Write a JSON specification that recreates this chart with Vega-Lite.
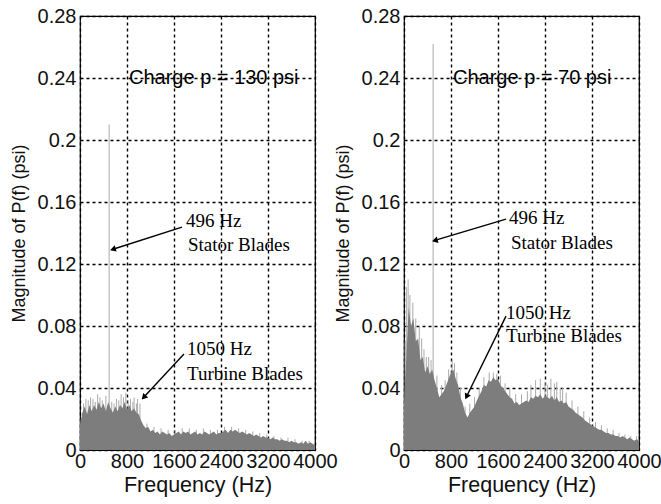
{
  "$schema": "https://vega.github.io/schema/vega-lite/v6.json",
  "padding": {"left": 9, "top": 5, "right": 0, "bottom": 5},
  "background": "white",
  "datasets": {
    "spec130": [{"f":0,"m":0.016},{"f":40,"m":0.024},{"f":80,"m":0.028},{"f":120,"m":0.023},{"f":160,"m":0.029},{"f":200,"m":0.025},{"f":240,"m":0.029},{"f":280,"m":0.026},{"f":320,"m":0.031},{"f":360,"m":0.027},{"f":400,"m":0.03},{"f":440,"m":0.025},{"f":480,"m":0.031},{"f":520,"m":0.027},{"f":560,"m":0.024},{"f":600,"m":0.028},{"f":640,"m":0.025},{"f":680,"m":0.029},{"f":720,"m":0.027},{"f":760,"m":0.031},{"f":800,"m":0.026},{"f":840,"m":0.029},{"f":880,"m":0.025},{"f":920,"m":0.027},{"f":960,"m":0.024},{"f":1000,"m":0.023},{"f":1040,"m":0.019},{"f":1080,"m":0.016},{"f":1120,"m":0.014},{"f":1160,"m":0.015},{"f":1200,"m":0.012},{"f":1240,"m":0.013},{"f":1280,"m":0.011},{"f":1320,"m":0.012},{"f":1360,"m":0.01},{"f":1400,"m":0.012},{"f":1440,"m":0.011},{"f":1480,"m":0.01},{"f":1520,"m":0.011},{"f":1560,"m":0.009},{"f":1600,"m":0.01},{"f":1640,"m":0.011},{"f":1680,"m":0.012},{"f":1720,"m":0.01},{"f":1760,"m":0.012},{"f":1800,"m":0.011},{"f":1840,"m":0.012},{"f":1880,"m":0.01},{"f":1920,"m":0.011},{"f":1960,"m":0.012},{"f":2000,"m":0.01},{"f":2040,"m":0.011},{"f":2080,"m":0.01},{"f":2120,"m":0.012},{"f":2160,"m":0.011},{"f":2200,"m":0.01},{"f":2240,"m":0.011},{"f":2280,"m":0.012},{"f":2320,"m":0.01},{"f":2360,"m":0.011},{"f":2400,"m":0.011},{"f":2440,"m":0.012},{"f":2480,"m":0.013},{"f":2520,"m":0.011},{"f":2560,"m":0.013},{"f":2600,"m":0.012},{"f":2640,"m":0.013},{"f":2680,"m":0.012},{"f":2720,"m":0.011},{"f":2760,"m":0.012},{"f":2800,"m":0.011},{"f":2840,"m":0.01},{"f":2880,"m":0.011},{"f":2920,"m":0.01},{"f":2960,"m":0.009},{"f":3000,"m":0.01},{"f":3040,"m":0.009},{"f":3080,"m":0.008},{"f":3120,"m":0.009},{"f":3160,"m":0.008},{"f":3200,"m":0.008},{"f":3240,"m":0.007},{"f":3280,"m":0.008},{"f":3320,"m":0.007},{"f":3360,"m":0.007},{"f":3400,"m":0.006},{"f":3440,"m":0.007},{"f":3480,"m":0.006},{"f":3520,"m":0.006},{"f":3560,"m":0.005},{"f":3600,"m":0.006},{"f":3640,"m":0.005},{"f":3680,"m":0.005},{"f":3720,"m":0.004},{"f":3760,"m":0.005},{"f":3800,"m":0.004},{"f":3840,"m":0.006},{"f":3880,"m":0.004},{"f":3920,"m":0.005},{"f":3960,"m":0.004},{"f":4000,"m":0.003}],
    "spec70": [{"f":0,"m":0.03},{"f":40,"m":0.06},{"f":80,"m":0.092},{"f":120,"m":0.08},{"f":160,"m":0.085},{"f":200,"m":0.07},{"f":240,"m":0.072},{"f":280,"m":0.058},{"f":320,"m":0.06},{"f":360,"m":0.05},{"f":400,"m":0.054},{"f":440,"m":0.049},{"f":480,"m":0.052},{"f":520,"m":0.045},{"f":560,"m":0.04},{"f":600,"m":0.034},{"f":640,"m":0.036},{"f":680,"m":0.038},{"f":720,"m":0.042},{"f":760,"m":0.046},{"f":800,"m":0.05},{"f":840,"m":0.052},{"f":880,"m":0.046},{"f":920,"m":0.042},{"f":960,"m":0.034},{"f":1000,"m":0.03},{"f":1040,"m":0.024},{"f":1080,"m":0.021},{"f":1120,"m":0.024},{"f":1160,"m":0.026},{"f":1200,"m":0.028},{"f":1240,"m":0.032},{"f":1280,"m":0.035},{"f":1320,"m":0.038},{"f":1360,"m":0.042},{"f":1400,"m":0.041},{"f":1440,"m":0.045},{"f":1480,"m":0.044},{"f":1520,"m":0.047},{"f":1560,"m":0.045},{"f":1600,"m":0.046},{"f":1640,"m":0.042},{"f":1680,"m":0.04},{"f":1720,"m":0.038},{"f":1760,"m":0.036},{"f":1800,"m":0.034},{"f":1840,"m":0.033},{"f":1880,"m":0.03},{"f":1920,"m":0.031},{"f":1960,"m":0.029},{"f":2000,"m":0.03},{"f":2040,"m":0.031},{"f":2080,"m":0.032},{"f":2120,"m":0.031},{"f":2160,"m":0.034},{"f":2200,"m":0.033},{"f":2240,"m":0.035},{"f":2280,"m":0.034},{"f":2320,"m":0.036},{"f":2360,"m":0.033},{"f":2400,"m":0.035},{"f":2440,"m":0.034},{"f":2480,"m":0.033},{"f":2520,"m":0.035},{"f":2560,"m":0.032},{"f":2600,"m":0.034},{"f":2640,"m":0.031},{"f":2680,"m":0.032},{"f":2720,"m":0.03},{"f":2760,"m":0.031},{"f":2800,"m":0.028},{"f":2840,"m":0.027},{"f":2880,"m":0.026},{"f":2920,"m":0.024},{"f":2960,"m":0.023},{"f":3000,"m":0.022},{"f":3040,"m":0.021},{"f":3080,"m":0.019},{"f":3120,"m":0.018},{"f":3160,"m":0.017},{"f":3200,"m":0.016},{"f":3240,"m":0.015},{"f":3280,"m":0.014},{"f":3320,"m":0.013},{"f":3360,"m":0.013},{"f":3400,"m":0.012},{"f":3440,"m":0.011},{"f":3480,"m":0.011},{"f":3520,"m":0.01},{"f":3560,"m":0.01},{"f":3600,"m":0.009},{"f":3640,"m":0.009},{"f":3680,"m":0.008},{"f":3720,"m":0.009},{"f":3760,"m":0.008},{"f":3800,"m":0.007},{"f":3840,"m":0.008},{"f":3880,"m":0.007},{"f":3920,"m":0.006},{"f":3960,"m":0.007},{"f":4000,"m":0.006}],
    "spk130": [{"f":20,"s":0.02},{"f":60,"s":0.03},{"f":100,"s":0.033},{"f":140,"s":0.032},{"f":180,"s":0.034},{"f":220,"s":0.033},{"f":260,"s":0.031},{"f":300,"s":0.036},{"f":340,"s":0.034},{"f":380,"s":0.032},{"f":440,"s":0.035},{"f":496,"s":0.21},{"f":540,"s":0.031},{"f":580,"s":0.03},{"f":620,"s":0.033},{"f":660,"s":0.032},{"f":700,"s":0.036},{"f":740,"s":0.034},{"f":780,"s":0.037},{"f":820,"s":0.032},{"f":860,"s":0.033},{"f":900,"s":0.031},{"f":920,"s":0.034},{"f":960,"s":0.03},{"f":980,"s":0.033},{"f":1020,"s":0.03},{"f":1140,"s":0.017},{"f":1260,"s":0.015},{"f":1380,"s":0.014},{"f":1500,"s":0.013},{"f":1620,"s":0.013},{"f":1740,"s":0.014},{"f":1860,"s":0.014},{"f":1980,"s":0.013},{"f":2100,"s":0.014},{"f":2220,"s":0.013},{"f":2340,"s":0.013},{"f":2460,"s":0.015},{"f":2580,"s":0.015},{"f":2700,"s":0.014},{"f":2820,"s":0.013},{"f":2940,"s":0.012},{"f":3060,"s":0.011},{"f":3180,"s":0.01},{"f":3300,"s":0.009},{"f":3420,"s":0.008},{"f":3540,"s":0.008},{"f":3660,"s":0.007},{"f":3780,"s":0.006},{"f":3900,"s":0.006}],
    "spk70": [{"f":20,"s":0.07},{"f":40,"s":0.105},{"f":70,"s":0.11},{"f":100,"s":0.1},{"f":150,"s":0.095},{"f":200,"s":0.085},{"f":260,"s":0.08},{"f":300,"s":0.072},{"f":340,"s":0.065},{"f":380,"s":0.06},{"f":420,"s":0.06},{"f":460,"s":0.058},{"f":496,"s":0.262},{"f":560,"s":0.048},{"f":640,"s":0.042},{"f":700,"s":0.045},{"f":760,"s":0.052},{"f":820,"s":0.058},{"f":860,"s":0.056},{"f":900,"s":0.05},{"f":960,"s":0.04},{"f":1040,"s":0.028},{"f":1120,"s":0.03},{"f":1200,"s":0.034},{"f":1280,"s":0.04},{"f":1360,"s":0.047},{"f":1450,"s":0.05},{"f":1520,"s":0.05},{"f":1580,"s":0.049},{"f":1640,"s":0.048},{"f":1720,"s":0.043},{"f":1800,"s":0.04},{"f":1900,"s":0.036},{"f":2000,"s":0.036},{"f":2100,"s":0.038},{"f":2160,"s":0.042},{"f":2240,"s":0.045},{"f":2320,"s":0.046},{"f":2400,"s":0.044},{"f":2440,"s":0.042},{"f":2500,"s":0.046},{"f":2560,"s":0.043},{"f":2600,"s":0.044},{"f":2660,"s":0.04},{"f":2700,"s":0.04},{"f":2760,"s":0.037},{"f":2860,"s":0.032},{"f":2960,"s":0.028},{"f":3060,"s":0.025},{"f":3160,"s":0.021},{"f":3260,"s":0.018},{"f":3360,"s":0.016},{"f":3460,"s":0.014},{"f":3560,"s":0.013},{"f":3660,"s":0.011},{"f":3760,"s":0.01},{"f":3860,"s":0.009},{"f":3960,"s":0.009}],
    "arr130": [{"ft": 1736, "mt": 0.1438, "fh": 560, "mh": 0.1295, "angle": 252}, {"ft": 1770, "mt": 0.0619, "fh": 1085, "mh": 0.034, "angle": 222}],
    "arr70": [{"ft": 1736, "mt": 0.149, "fh": 525, "mh": 0.1352, "angle": 255}, {"ft": 1736, "mt": 0.0864, "fh": 1065, "mh": 0.0345, "angle": 206}]
  },
  "hconcat": [
    {
      "width": 235,
      "height": 434,
      "layer": [
        {
          "data": {"name": "spk130"},
          "mark": {"type": "rule", "color": "#aaaaaa", "strokeWidth": 1},
          "encoding": {
            "x": {"field": "f", "type": "quantitative", "scale": {"domain": [0, 4000], "nice": false}, "axis": {"title": "Frequency (Hz)", "values": [0, 800, 1600, 2400, 3200, 4000], "format": "d", "labelPadding": 1, "titlePadding": 3}},
            "y": {"field": "s", "type": "quantitative", "scale": {"domain": [0, 0.28], "nice": false}, "axis": {"title": "Magnitude of P(f) (psi)", "values": [0, 0.04, 0.08, 0.12, 0.16, 0.2, 0.24, 0.28], "format": "~g", "labelPadding": 4, "titlePadding": 9}},
            "y2": {"datum": 0}
          }
        },
        {
          "data": {"name": "spec130"},
          "mark": {"type": "area", "color": "#7d7d7d", "interpolate": "linear"},
          "encoding": {"x": {"field": "f", "type": "quantitative"}, "y": {"field": "m", "type": "quantitative"}}
        },
        {
          "data": {"values": [{"f": 834, "m": 0.24, "label": "Charge p = 130 psi"}]},
          "mark": {"type": "text", "font": "Liberation Sans", "fontSize": 20, "align": "left", "baseline": "middle", "color": "black"},
          "encoding": {"x": {"field": "f", "type": "quantitative"}, "y": {"field": "m", "type": "quantitative"}, "text": {"field": "label"}}
        },
        {
          "data": {"values": [{"f": 1804, "m": 0.148, "label": "496 Hz"}, {"f": 1838, "m": 0.132, "label": "Stator Blades"}, {"f": 1821, "m": 0.0651, "label": "1050 Hz"}, {"f": 1821, "m": 0.049, "label": "Turbine Blades"}]},
          "mark": {"type": "text", "font": "Liberation Serif", "fontSize": 19, "align": "left", "baseline": "middle", "color": "black"},
          "encoding": {"x": {"field": "f", "type": "quantitative"}, "y": {"field": "m", "type": "quantitative"}, "text": {"field": "label"}}
        },
        {
          "data": {"name": "arr130"},
          "mark": {"type": "rule", "color": "black", "strokeWidth": 1.4},
          "encoding": {"x": {"field": "ft", "type": "quantitative"}, "y": {"field": "mt", "type": "quantitative"}, "x2": {"field": "fh"}, "y2": {"field": "mh"}}
        },
        {
          "data": {"name": "arr130"},
          "mark": {"type": "point", "shape": "triangle-up", "filled": true, "color": "black", "size": 45, "opacity": 1},
          "encoding": {"x": {"field": "fh", "type": "quantitative"}, "y": {"field": "mh", "type": "quantitative"}, "angle": {"field": "angle", "type": "quantitative", "scale": null}}
        }
      ]
    },
    {
      "width": 235,
      "height": 434,
      "layer": [
        {
          "data": {"name": "spk70"},
          "mark": {"type": "rule", "color": "#aaaaaa", "strokeWidth": 1},
          "encoding": {
            "x": {"field": "f", "type": "quantitative", "scale": {"domain": [0, 4000], "nice": false}, "axis": {"title": "Frequency (Hz)", "values": [0, 800, 1600, 2400, 3200, 4000], "format": "d", "labelPadding": 1, "titlePadding": 3}},
            "y": {"field": "s", "type": "quantitative", "scale": {"domain": [0, 0.28], "nice": false}, "axis": {"title": "Magnitude of P(f) (psi)", "values": [0, 0.04, 0.08, 0.12, 0.16, 0.2, 0.24, 0.28], "format": "~g", "labelPadding": 4, "titlePadding": 9}},
            "y2": {"datum": 0}
          }
        },
        {
          "data": {"name": "spec70"},
          "mark": {"type": "area", "color": "#7d7d7d", "interpolate": "linear"},
          "encoding": {"x": {"field": "f", "type": "quantitative"}, "y": {"field": "m", "type": "quantitative"}}
        },
        {
          "data": {"values": [{"f": 834, "m": 0.24, "label": "Charge p = 70 psi"}]},
          "mark": {"type": "text", "font": "Liberation Sans", "fontSize": 20, "align": "left", "baseline": "middle", "color": "black"},
          "encoding": {"x": {"field": "f", "type": "quantitative"}, "y": {"field": "m", "type": "quantitative"}, "text": {"field": "label"}}
        },
        {
          "data": {"values": [{"f": 1787, "m": 0.1496, "label": "496 Hz"}, {"f": 1821, "m": 0.1335, "label": "Stator Blades"}, {"f": 1736, "m": 0.0884, "label": "1050 Hz"}, {"f": 1736, "m": 0.0735, "label": "Turbine Blades"}]},
          "mark": {"type": "text", "font": "Liberation Serif", "fontSize": 19, "align": "left", "baseline": "middle", "color": "black"},
          "encoding": {"x": {"field": "f", "type": "quantitative"}, "y": {"field": "m", "type": "quantitative"}, "text": {"field": "label"}}
        },
        {
          "data": {"name": "arr70"},
          "mark": {"type": "rule", "color": "black", "strokeWidth": 1.4},
          "encoding": {"x": {"field": "ft", "type": "quantitative"}, "y": {"field": "mt", "type": "quantitative"}, "x2": {"field": "fh"}, "y2": {"field": "mh"}}
        },
        {
          "data": {"name": "arr70"},
          "mark": {"type": "point", "shape": "triangle-up", "filled": true, "color": "black", "size": 45, "opacity": 1},
          "encoding": {"x": {"field": "fh", "type": "quantitative"}, "y": {"field": "mh", "type": "quantitative"}, "angle": {"field": "angle", "type": "quantitative", "scale": null}}
        }
      ]
    }
  ],
  "spacing": 89,
  "bounds": "flush",
  "config": {
    "view": {"stroke": "black", "strokeWidth": 1.2},
    "axis": {
      "labelFont": "Liberation Sans",
      "labelFontSize": 20,
      "labelColor": "#111111",
      "titleFont": "Liberation Sans",
      "titleFontSize": 19,
      "titleFontWeight": "normal",
      "titleColor": "#111111",
      "gridColor": "black",
      "gridDash": [3, 3],
      "gridOpacity": 1,
      "gridWidth": 1.4,
      "ticks": false,
      "domain": false,
      "labelOverlap": false,
      "labelFlush": false
    },
    "axisX": {"titleFontSize": 21.5},
    "axisY": {"titleFontSize": 18}
  }
}
